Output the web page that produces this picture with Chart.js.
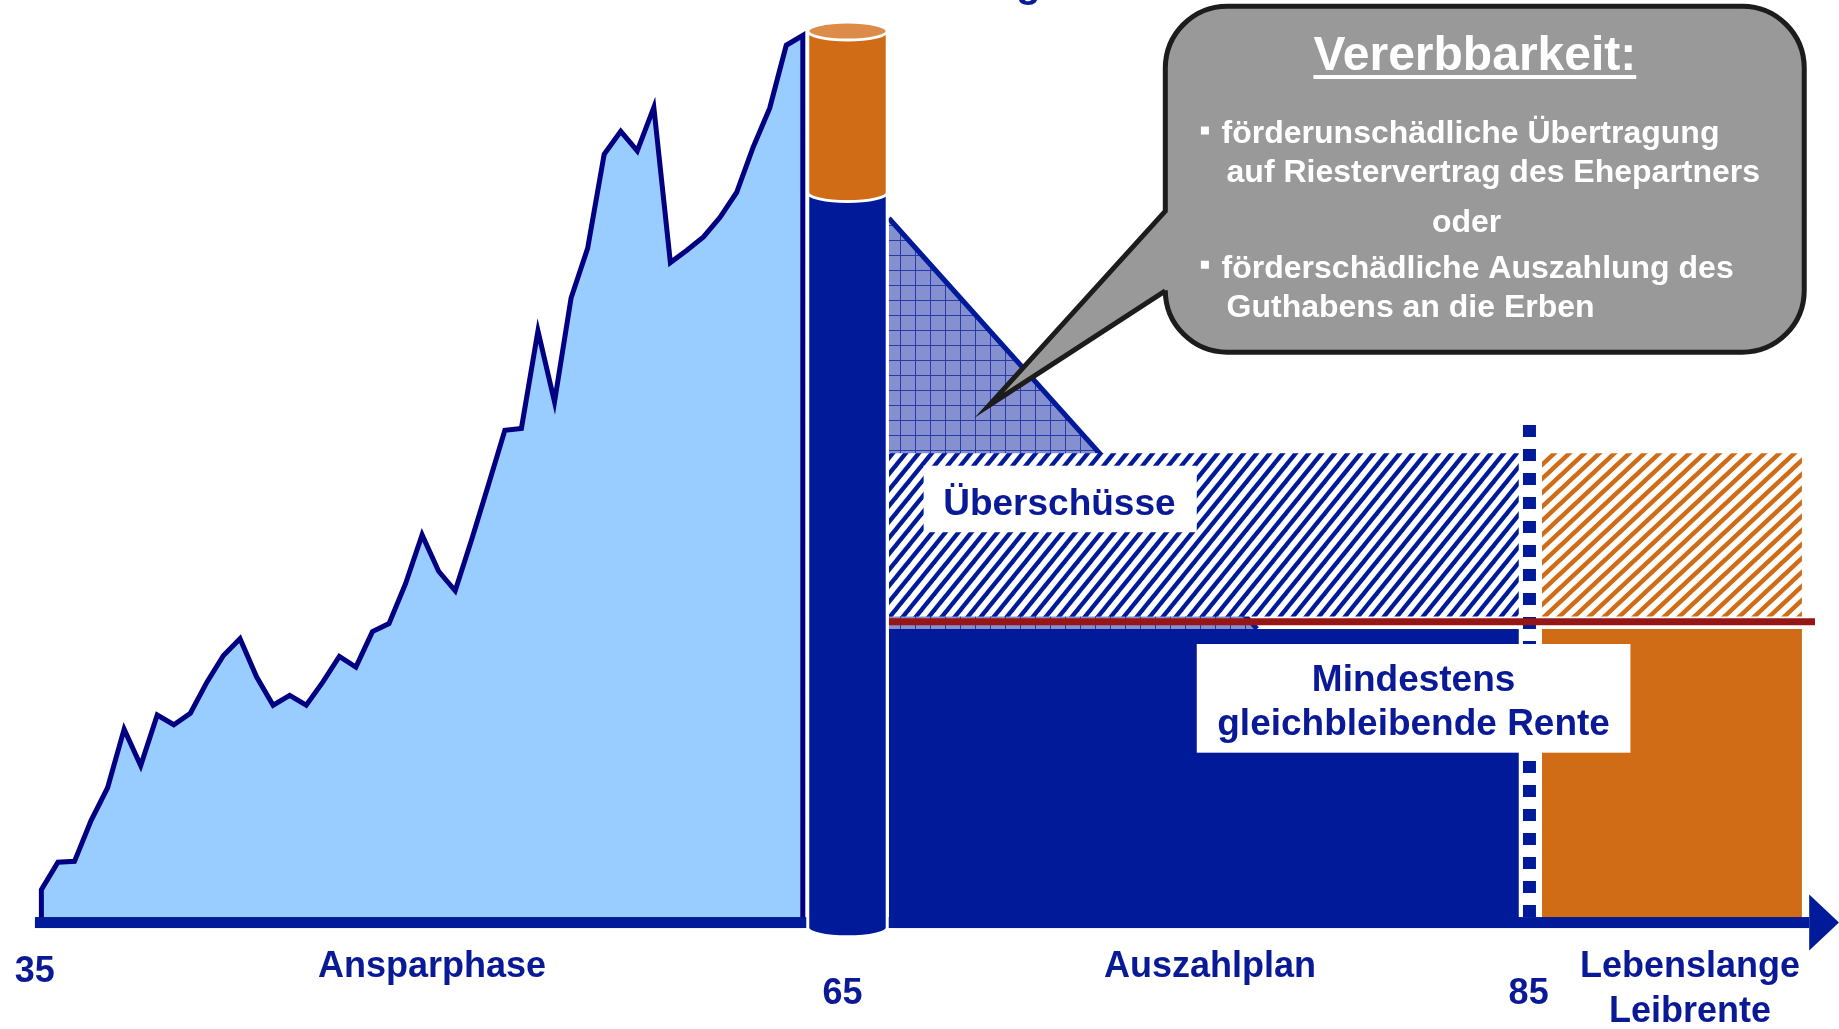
<!DOCTYPE html>
<html lang="de">
<head>
<meta charset="utf-8">
<title>Riester-Rente: Ansparphase und Auszahlung</title>
<script src="https://cdn.jsdelivr.net/npm/chart.js@4.4.1/dist/chart.umd.min.js"></script>
<style>
  html, body { margin: 0; padding: 0; background: #fff; overflow: hidden; }
  canvas { display: block; }
</style>
</head>
<body>
<canvas id="rentenChart" width="1839" height="1029" style="width:1839px;height:1029px"></canvas>
<script>
// Ansparphase: Guthaben je Zeitschritt (Schritt 0 = Alter 35, Schritt 46 = Alter 65), 100 = Endstand
const ansparWerte = [3.7, 6.8, 6.9, 11.5, 15.2, 21.8, 17.7, 23.4, 22.3, 23.6, 27.1, 30.1, 32.0, 27.7,
  24.5, 25.6, 24.5, 27.1, 30.0, 28.8, 32.8, 33.7, 38.2, 43.7, 39.6, 37.4, 43.2, 49.3, 55.5, 55.7,
  66.7, 58.7, 70.4, 76.0, 86.6, 89.2, 87.0, 91.9, 74.4, 75.8, 77.3, 79.5, 82.3, 87.4, 91.8, 98.9, 100];

// Kapital zu Rentenbeginn (Zylinder): x links/rechts, y oben / Grenze Leibrente-Anteil / unten
const zylinderX = [46.3, 51.1];
const zylinderY = [100.5, 82.3, -0.6];

// Auszahlphase
const auszahlplanX = [51.2, 89.26];
const leibrenteX = [90.65, 106.36];
const renteNiveau = 33.1;             // mindestens gleichbleibende Rente
const ueberschussY = [34.5, 52.9];    // Band der Überschüsse
const garantieLinieX = [51.2, 107.15];
const garantieLinieY = 33.9;
const restkapitalX = [51.2, 73.44];   // vererbbares Restkapital (Dreieck)
const restkapitalY = [79.4, 33.1];
const grenze85X = 89.9;
const grenze85Oben = 56.1;
const achseX = [-0.39, 106.8, 108.6];

// Beschriftungen der Zeitachse
const altersLabels = ['35', '65', '85'];
const altersPos = [-0.4, 48.4, 89.85];
const phasenLabels = [['Ansparphase'], ['Auszahlplan'], ['Lebenslange', 'Leibrente']];
const phasenPos = [23.6, 70.6, 99.6];

const bubbleTitel = 'Vererbbarkeit:';
const bubbleZeilen = [
  ['▪', 'förderunschädliche Übertragung'],
  ['', 'auf Riestervertrag des Ehepartners'],
  ['oder', ''],
  ['▪', 'förderschädliche Auszahlung des'],
  ['', 'Guthabens an die Erben']
];

const NAVY = '#001A99';
const TEXT = '#0A1A96';
const ORANGE = '#D06C16';
const FONT = '"Liberation Sans", Arial, Helvetica, sans-serif';
const DY = 3.5; // Text etwas tiefer als die Mitte

const ctx = document.getElementById('rentenChart').getContext('2d');

function makeStripes(color, w, h, lw) {
  const c = document.createElement('canvas');
  c.width = w; c.height = h;
  const g = c.getContext('2d');
  g.fillStyle = '#fff';
  g.fillRect(0, 0, w, h);
  g.strokeStyle = color;
  g.lineWidth = lw;
  [-w, 0, w].forEach(off => {
    g.beginPath();
    g.moveTo(off - w, 2 * h);
    g.lineTo(off + 2 * w, -h);
    g.stroke();
  });
  return ctx.createPattern(c, 'repeat');
}

function makeGrid(bg, line, s) {
  const c = document.createElement('canvas');
  c.width = s; c.height = s;
  const g = c.getContext('2d');
  g.fillStyle = bg;
  g.fillRect(0, 0, s, s);
  g.fillStyle = line;
  g.fillRect(0, 0, s, 1);
  g.fillRect(0, 0, 1, s);
  return ctx.createPattern(c, 'repeat');
}

const blueStripes = makeStripes(NAVY, 13, 16, 4.3);
const orangeStripes = makeStripes(ORANGE, 15, 14, 4.5);
const gridFill = makeGrid('#8490CF', '#2A3AA6', 15);

const ansparPunkte = [{ x: 0, y: 0 }]
  .concat(ansparWerte.map((v, i) => ({ x: i, y: v })))
  .concat([{ x: ansparWerte.length - 1, y: 0 }]);

const noLine = { borderWidth: 0, borderColor: 'rgba(0,0,0,0)', pointRadius: 0 };

const zeichnung = {
  id: 'zeichnung',
  afterDatasetsDraw(chart) {
    const c = chart.ctx;
    const xs = chart.scales.x, ys = chart.scales.y;
    const px = v => xs.getPixelForValue(v);
    const py = v => ys.getPixelForValue(v);
    c.save();

    // Zeitachse mit Pfeil
    const y0 = py(0);
    c.fillStyle = NAVY;
    c.fillRect(px(achseX[0]), y0 - 5.5, px(achseX[1]) - px(achseX[0]), 11);
    c.beginPath();
    c.moveTo(px(achseX[1]), y0 - 28);
    c.lineTo(px(achseX[2]), y0);
    c.lineTo(px(achseX[1]), y0 + 28);
    c.closePath();
    c.fill();

    // Zylinder (Kapital zu Rentenbeginn)
    const x1 = px(zylinderX[0]), x2 = px(zylinderX[1]);
    const cx = (x1 + x2) / 2, rx = (x2 - x1) / 2, ry = 9;
    const top = py(zylinderY[0]), mid = py(zylinderY[1]), bot = py(zylinderY[2]);
    c.lineWidth = 3;
    c.strokeStyle = '#fff';
    c.beginPath();
    c.moveTo(x1, mid);
    c.lineTo(x1, bot);
    c.ellipse(cx, bot, rx, ry, 0, Math.PI, 0, true);
    c.lineTo(x2, mid);
    c.closePath();
    c.fillStyle = NAVY;
    c.fill();
    c.stroke();
    c.beginPath();
    c.moveTo(x1, top);
    c.lineTo(x1, mid);
    c.ellipse(cx, mid, rx, ry, 0, Math.PI, 0, true);
    c.lineTo(x2, top);
    c.closePath();
    c.fillStyle = ORANGE;
    c.fill();
    c.stroke();
    c.beginPath();
    c.ellipse(cx, top, rx, ry, 0, 0, Math.PI * 2);
    c.fillStyle = '#DC8C48';
    c.fill();
    c.stroke();

    // weiße Textfelder
    c.fillStyle = '#fff';
    c.fillRect(px(53.3), py(51.5), px(69.8) - px(53.3), py(44.0) - py(51.5));
    c.fillRect(px(69.8), py(31.4), px(96.0) - px(69.8), py(19.15) - py(31.4));
    c.fillStyle = TEXT;
    c.textAlign = 'center';
    c.textBaseline = 'middle';
    c.font = 'bold 37px ' + FONT;
    c.fillText('Überschüsse', px(61.5), py(47.5) + DY);
    c.fillText('Mindestens', px(82.9), py(27.7) + DY);
    c.fillText('gleichbleibende Rente', px(82.9), py(22.7) + DY);

    // Sprechblase
    const L = px(67.9), R = px(106.5), T = py(103.3), B = py(64.3), r = 62;
    c.beginPath();
    c.moveTo(L + r, T);
    c.arcTo(R, T, R, B, r);
    c.arcTo(R, B, L, B, r);
    c.arcTo(L, B, L, T, r);
    c.lineTo(L, py(71.2));
    c.lineTo(px(57.25), py(58.3));
    c.lineTo(L, py(80.2));
    c.arcTo(L, T, R, T, r);
    c.closePath();
    c.fillStyle = '#999999';
    c.fill();
    c.lineWidth = 5;
    c.lineJoin = 'miter';
    c.strokeStyle = '#1C1C1C';
    c.stroke();

    c.fillStyle = '#fff';
    c.font = 'bold 48px ' + FONT;
    c.fillText(bubbleTitel, px(86.6), py(98.0) + DY);
    const tw = c.measureText(bubbleTitel).width;
    c.fillRect(px(86.6) - tw / 2, py(95.43) - 1, tw, 4);

    c.font = 'bold 32px ' + FONT;
    const zeilenY = [89.23, 84.83, 79.2, 74.1, 69.7];
    bubbleZeilen.forEach((z, i) => {
      const yy = py(zeilenY[i]) + DY;
      if (z[0] === 'oder') {
        c.textAlign = 'center';
        c.fillText(z[0], px(86.1), yy);
        return;
      }
      c.textAlign = 'left';
      if (z[0] === '▪') {
        c.fillRect(px(70.05), yy - 8, 8, 8);
        c.fillText(z[1], px(71.3), yy);
      } else {
        c.fillText(z[1], px(71.6), yy);
      }
    });

    // Achsenbeschriftung
    c.fillStyle = TEXT;
    c.textAlign = 'center';
    c.font = 'bold 36px ' + FONT;
    const altersY = [-5.2, -7.7, -7.7];
    altersLabels.forEach((t, i) => c.fillText(t, px(altersPos[i]), py(altersY[i]) + DY));
    phasenLabels.forEach((zeilen, i) => {
      zeilen.forEach((t, j) => c.fillText(t, px(phasenPos[i]), py(-4.66 - j * 5.08) + DY));
    });

    // Rest des abgeschnittenen Titels
    c.textAlign = 'left';
    c.textBaseline = 'alphabetic';
    c.font = 'bold 40px ' + FONT;
    c.fillText('g', px(58.9), py(104.2) - 1);

    c.restore();
  }
};

new Chart(ctx, {
  type: 'line',
  data: {
    datasets: [
      {
        label: 'Ansparphase',
        data: ansparPunkte,
        fill: 'origin',
        backgroundColor: '#99CCFF',
        borderColor: '#000080',
        borderWidth: 5,
        borderJoinStyle: 'miter',
        pointRadius: 0,
        order: 10
      },
      {
        label: 'Restkapital',
        data: restkapitalX.map((x, i) => ({ x: x, y: restkapitalY[i] })),
        fill: { value: renteNiveau },
        backgroundColor: gridFill,
        borderColor: NAVY,
        borderWidth: 5,
        pointRadius: 0,
        order: 9
      },
      Object.assign({
        label: 'Überschüsse Auszahlplan',
        data: auszahlplanX.map(x => ({ x: x, y: ueberschussY[1] })),
        fill: { value: ueberschussY[0] },
        backgroundColor: blueStripes,
        order: 8
      }, noLine),
      Object.assign({
        label: 'Überschüsse Leibrente',
        data: leibrenteX.map(x => ({ x: x, y: ueberschussY[1] })),
        fill: { value: ueberschussY[0] },
        backgroundColor: orangeStripes,
        order: 8
      }, noLine),
      Object.assign({
        label: 'Auszahlplan',
        data: auszahlplanX.map(x => ({ x: x, y: renteNiveau })),
        fill: 'origin',
        backgroundColor: NAVY,
        order: 7
      }, noLine),
      Object.assign({
        label: 'Leibrente',
        data: leibrenteX.map(x => ({ x: x, y: renteNiveau })),
        fill: 'origin',
        backgroundColor: ORANGE,
        order: 7
      }, noLine),
      {
        label: 'Alter 85',
        data: [{ x: grenze85X, y: grenze85Oben }, { x: grenze85X, y: 0 }],
        fill: false,
        borderColor: NAVY,
        borderWidth: 13,
        borderDash: [12, 12],
        borderCapStyle: 'butt',
        pointRadius: 0,
        order: 6
      },
      {
        label: 'Garantie',
        data: garantieLinieX.map(x => ({ x: x, y: garantieLinieY })),
        fill: false,
        borderColor: '#961616',
        borderWidth: 7,
        pointRadius: 0,
        order: 5
      }
    ]
  },
  options: {
    responsive: false,
    animation: false,
    events: [],
    layout: { padding: 0 },
    elements: { line: { tension: 0 } },
    plugins: {
      legend: { display: false },
      tooltip: { enabled: false }
    },
    scales: {
      x: { type: 'linear', min: -2.5, max: 108.6, display: false },
      y: { type: 'linear', min: -12, max: 104, display: false }
    }
  },
  plugins: [zeichnung]
});
</script>
</body>
</html>
